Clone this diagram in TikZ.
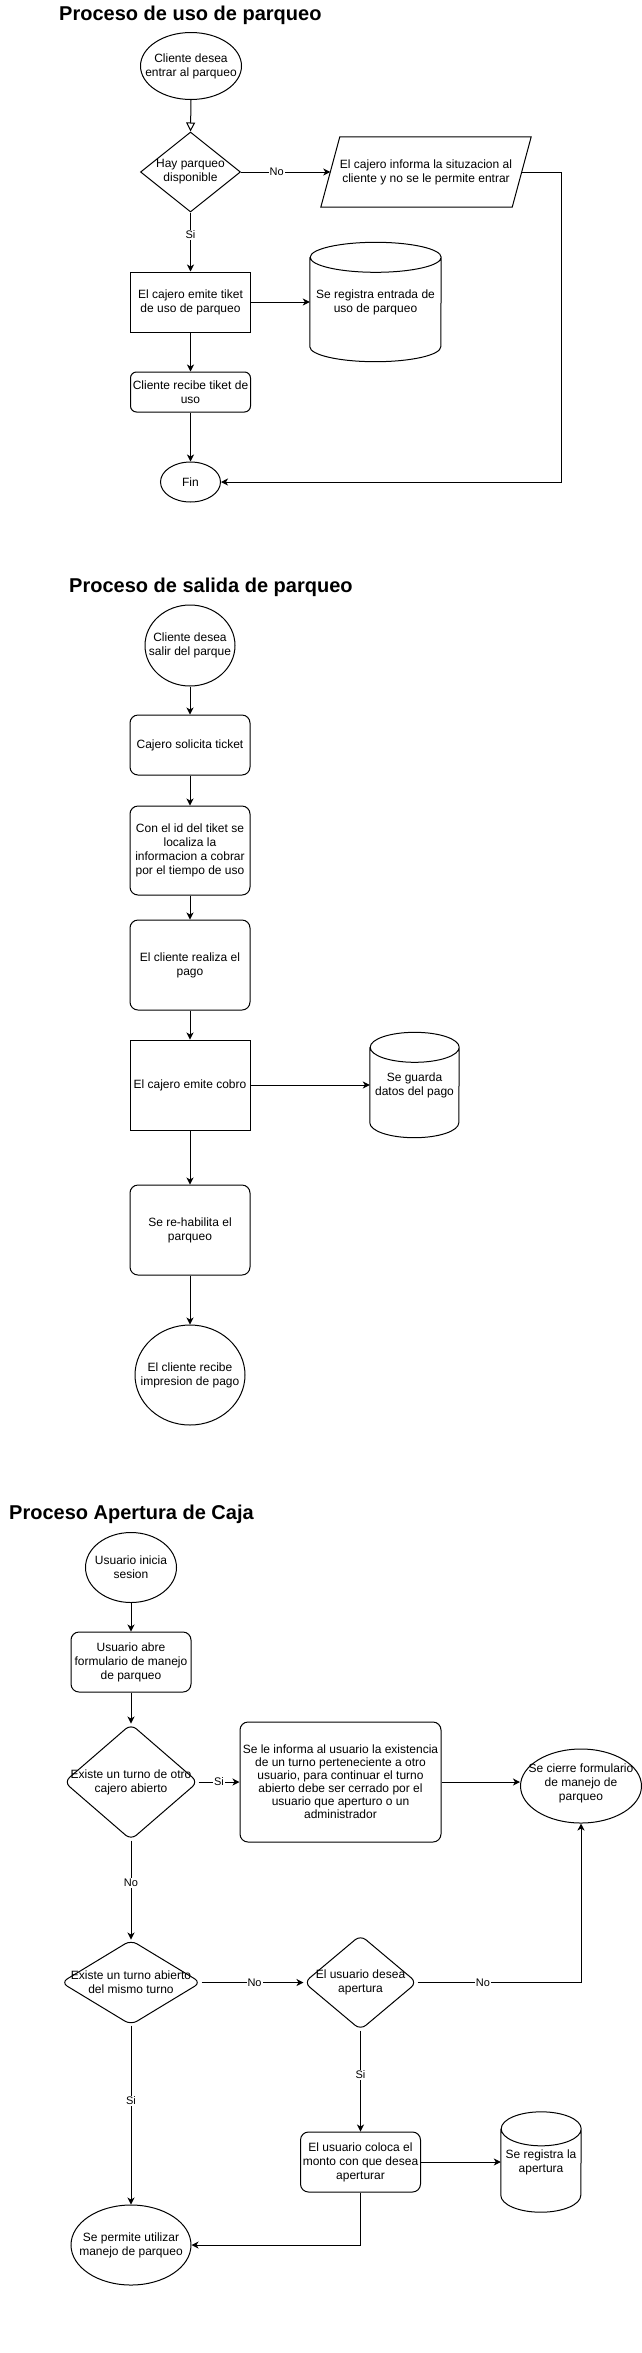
\documentclass[tikz,border=0pt]{standalone}
\usepackage{fontspec}
\setmainfont{Liberation Sans}
\usetikzlibrary{shapes.geometric,arrows.meta}
\newcommand\mycyl[3]{%
  \draw[line] ([yshift=-#3pt]#1.north west) -- ([yshift=#3pt]#1.south west)
    arc[start angle=180,end angle=360,x radius=#2pt,y radius=#3pt]
    -- ([yshift=-#3pt]#1.north east)
    arc[start angle=0,end angle=360,x radius=#2pt,y radius=#3pt];}
\tikzset{
 line/.style={draw=black, line width=1pt},
 arr/.style={line, -{Stealth[length=7pt,width=7pt,inset=2pt]}},
 openarr/.style={line, -{Triangle[open,length=9pt,width=9pt]}},
 txt/.style={align=center, inner sep=0pt, font=\fontsize{12pt}{14pt}\selectfont},
 rectbox/.style={txt, draw, line width=1pt, rectangle},
 roundbox/.style={rectbox, rounded corners=8pt},
 ell/.style={draw, line width=1pt, ellipse, inner sep=0pt},
 dia/.style={draw, line width=1pt, diamond, inner sep=0pt},
 rdia/.style={dia, rounded corners=7pt},
 shapeonly/.style={inner sep=0pt, draw=none, rectangle},
 elab/.style={fill=white, inner sep=1pt, font=\fontsize{11pt}{13pt}\selectfont},
 titletxt/.style={anchor=base west, inner sep=0pt, font=\fontsize{20pt}{24pt}\selectfont\bfseries},
}
\begin{document}
\begin{tikzpicture}[x=1pt,y=-1pt]
\fill[white] (0,0) rectangle (642,2353);
\useasboundingbox (0,0) rectangle (642,2353);

% ---------------- Section 1 ----------------
\node[titletxt] (t1) at (59,20) {Proceso de uso de parqueo};

\node[ell, minimum width=101pt, minimum height=67pt] (s1) at (191,66) {};
\node[txt] (s1t) at (s1) {Cliente desea\\entrar al parqueo};

\node[dia, minimum width=100pt, minimum height=80pt] (d1) at (190.5,172) {};
\node[txt] (d1t) at (d1) {Hay parqueo\\disponible};

\node[shapeonly, minimum width=210pt, minimum height=70pt] (p1) at (426,172) {};
\draw[line] ([xshift=19pt]p1.north west) -- (p1.north east) -- ([xshift=-19pt]p1.south east) -- (p1.south west) -- cycle;
\node[txt] (p1t) at (p1) {El cajero informa la situzacion al\\cliente y no se le permite entrar};
\coordinate (p1in) at ([xshift=9.5pt]p1.west);
\coordinate (p1out) at ([xshift=-9.5pt]p1.east);

\node[rectbox, minimum width=120pt, minimum height=60pt] (b1) at (190.5,302) {El cajero emite tiket\\de uso de parqueo};

\node[shapeonly, minimum width=131pt, minimum height=119pt] (c1) at (375.5,302) {};
\mycyl{c1}{65.5}{15}
\node[txt] (c1t) at (c1) {Se registra entrada de\\uso de parqueo};

\node[rectbox, rounded corners=6pt, minimum width=120pt, minimum height=40pt] (b2) at (190.5,392) {Cliente recibe tiket de\\uso};

\node[ell, minimum width=60pt, minimum height=40pt] (f1) at (190.5,482) {};
\node[txt] (f1t) at (f1) {Fin};

\coordinate (k1) at (561,172);

\draw[openarr] (s1.south) -- (d1.north);
\draw[arr] (d1.east) -- node[elab, pos=0.4] {No} (p1in);
\draw[arr] (d1.south) -- node[elab, pos=0.38] {Si} (b1.north);
\draw[arr] (b1.east) -- (c1.west);
\draw[arr] (b1.south) -- (b2.north);
\draw[arr] (b2.south) -- (f1.north);
\draw[arr] (p1out) -- (k1) |- (f1.east);

% ---------------- Section 2 ----------------
\node[titletxt] (t2) at (69,592) {Proceso de salida de parqueo};

\node[ell, minimum width=90pt, minimum height=81pt] (s2) at (190,645.5) {};
\node[txt] (s2t) at (s2) {Cliente desea\\salir del parque};

\node[roundbox, minimum width=120pt, minimum height=60pt] (b3) at (190,745) {Cajero solicita ticket};
\node[roundbox, minimum width=120pt, minimum height=89pt] (b4) at (190,850.5) {Con el id del tiket se\\localiza la\\informacion a cobrar\\por el tiempo de uso};
\node[roundbox, minimum width=120pt, minimum height=90pt] (b5) at (190,965) {El cliente realiza el\\pago};
\node[rectbox, minimum width=120pt, minimum height=90pt] (b6) at (190,1085) {El cajero emite cobro};

\node[shapeonly, minimum width=89pt, minimum height=105pt] (c2) at (414.5,1085) {};
\mycyl{c2}{44.5}{15}
\node[txt] (c2t) at (c2) {Se guarda\\datos del pago};

\node[roundbox, minimum width=120pt, minimum height=90pt] (b7) at (190,1230) {Se re-habilita el\\parqueo};

\node[ell, minimum width=110pt, minimum height=100pt] (e2) at (190,1375) {};
\node[txt] (e2t) at (e2) {El cliente recibe\\impresion de pago};

\draw[arr] (s2.south) -- (b3.north);
\draw[arr] (b3.south) -- (b4.north);
\draw[arr] (b4.south) -- (b5.north);
\draw[arr] (b5.south) -- (b6.north);
\draw[arr] (b6.east) -- (c2.west);
\draw[arr] (b6.south) -- (b7.north);
\draw[arr] (b7.south) -- (e2.north);

% ---------------- Section 3 ----------------
\node[titletxt] (t3) at (9,1519) {Proceso Apertura de Caja};

\node[ell, minimum width=91pt, minimum height=70pt] (s3) at (131,1567.5) {};
\node[txt] (s3t) at (s3) {Usuario inicia\\sesion};

\node[roundbox, minimum width=120pt, minimum height=60pt] (b8) at (131,1662) {Usuario abre\\formulario de manejo\\de parqueo};

\node[rdia, minimum width=134pt, minimum height=116pt] (d2) at (131,1782) {};
\node[txt] (d2t) at (d2) {Existe un turno de otro\\cajero abierto};

\node[roundbox, font=\fontsize{12pt}{13pt}\selectfont, minimum width=201pt, minimum height=120pt] (b9) at (340.5,1782) {Se le informa al usuario la existencia\\de un turno perteneciente a otro\\usuario, para continuar el turno\\abierto debe ser cerrado por el\\usuario que aperturo o un\\administrador};

\node[ell, minimum width=121pt, minimum height=74pt] (e3) at (581,1786) {};
\node[txt] (e3t) at (581,1783) {Se cierre formulario\\de manejo de\\parqueo};

\node[rdia, minimum width=140pt, minimum height=85pt] (d3) at (131,1982.5) {};
\node[txt] (d3t) at (d3) {Existe un turno abierto\\del mismo turno};

\node[rdia, minimum width=113pt, minimum height=95pt] (d4) at (360.5,1982.5) {};
\node[txt] (d4t) at (d4) {El usuario desea\\apertura};

\node[roundbox, minimum width=120pt, minimum height=60pt] (b10) at (360.5,2162) {El usuario coloca el\\monto con que desea\\aperturar};

\node[shapeonly, minimum width=80pt, minimum height=100pt] (c3) at (541,2162) {};
\mycyl{c3}{40}{17}
\node[txt] (c3t) at (c3) {Se registra la\\apertura};

\node[ell, minimum width=120pt, minimum height=80pt] (e4) at (131,2245) {};
\node[txt] (e4t) at (e4) {Se permite utilizar\\manejo de parqueo};

\draw[arr] (s3.south) -- (b8.north);
\draw[arr] (b8.south) -- (d2.north);
\draw[arr] (d2.east) -- node[elab, pos=0.5] {Si} (b9.west);
\draw[arr] (b9.east) -- (b9.east -| e3.west);
\draw[arr] (d2.south) -- node[elab, pos=0.43] {No} (d3.north);
\draw[arr] (d3.east) -- node[elab, pos=0.52] {No} (d4.west);
\draw[arr] (d4.east) -| node[elab, pos=0.2] {No} (e3.south);
\draw[arr] (d4.south) -- node[elab, pos=0.44] {Si} (b10.north);
\draw[arr] (b10.east) -- (c3.west);
\draw[arr] (d3.south) -- node[elab, pos=0.42] {Si} (e4.north);
\draw[arr] (b10.south) |- (e4.east);
\end{tikzpicture}
\end{document}
